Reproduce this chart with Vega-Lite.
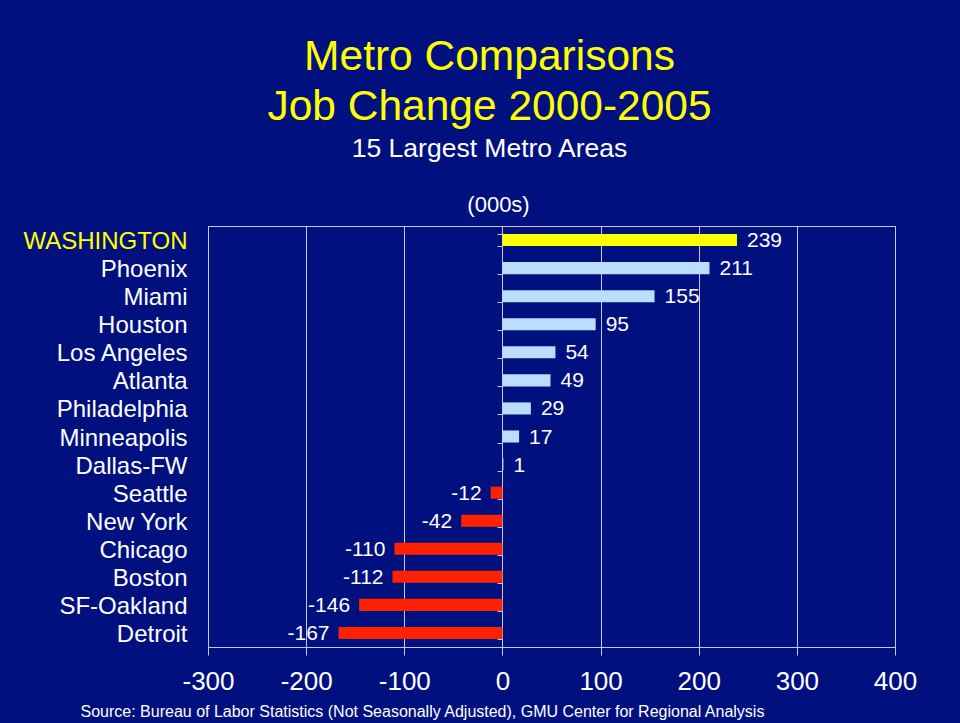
{
  "$schema": "https://vega.github.io/schema/vega-lite/v6.json",
  "width": 687,
  "height": 421,
  "autosize": {"type": "none"},
  "padding": {"left": 208, "top": 226, "right": 65, "bottom": 76},
  "background": "#00107F",
  "title": {
    "text": ["Metro Comparisons", "Job Change 2000-2005"],
    "subtitle": "15 Largest Metro Areas",
    "color": "#FFFF00",
    "fontSize": 42.5,
    "font": "Liberation Sans",
    "fontWeight": "normal",
    "lineHeight": 50,
    "subtitleColor": "#FFFFFF",
    "subtitleFontSize": 26.5,
    "subtitleFont": "Liberation Sans",
    "subtitlePadding": 7,
    "anchor": "middle",
    "frame": "group",
    "dx": -62,
    "offset": 31
  },
  "data": {
    "values": [
      {"metro": "WASHINGTON", "change": 239, "group": "highlight"},
      {"metro": "Phoenix", "change": 211, "group": "gain"},
      {"metro": "Miami", "change": 155, "group": "gain"},
      {"metro": "Houston", "change": 95, "group": "gain"},
      {"metro": "Los Angeles", "change": 54, "group": "gain"},
      {"metro": "Atlanta", "change": 49, "group": "gain"},
      {"metro": "Philadelphia", "change": 29, "group": "gain"},
      {"metro": "Minneapolis", "change": 17, "group": "gain"},
      {"metro": "Dallas-FW", "change": 1, "group": "gain"},
      {"metro": "Seattle", "change": -12, "group": "loss"},
      {"metro": "New York", "change": -42, "group": "loss"},
      {"metro": "Chicago", "change": -110, "group": "loss"},
      {"metro": "Boston", "change": -112, "group": "loss"},
      {"metro": "SF-Oakland", "change": -146, "group": "loss"},
      {"metro": "Detroit", "change": -167, "group": "loss"}
    ]
  },
  "config": {
    "view": {"stroke": "#C8C8DC", "strokeWidth": 1},
    "font": "Liberation Sans"
  },
  "layer": [
    {
      "mark": {"type": "bar"},
      "encoding": {
        "y": {
          "field": "metro", "type": "nominal", "sort": null,
          "scale": {"paddingInner": 0.57, "paddingOuter": 0.285},
          "axis": {
            "title": null, "domain": false, "ticks": false, "grid": false,
            "labelColor": {"expr": "datum.value === 'WASHINGTON' ? '#FFFF00' : '#FFFFFF'"},
            "labelFont": "Liberation Sans", "labelFontSize": 24, "labelPadding": 21,
            "labelOffset": 2
          }
        },
        "x": {
          "field": "change", "type": "quantitative",
          "scale": {"domain": [-300, 400], "nice": false},
          "axis": {
            "values": [-300, -200, -100, 0, 100, 200, 300, 400],
            "labelExpr": "toString(datum.value)",
            "labelFlush": false,
            "grid": true, "gridColor": "#C8C8DC", "gridOpacity": 1,
            "domainColor": "#C8C8DC", "tickColor": "#C8C8DC", "tickSize": 8,
            "labelColor": "#FFFFFF", "labelFontSize": 26, "labelPadding": 13,
            "labelFont": "Liberation Sans",
            "title": "Source: Bureau of Labor Statistics (Not Seasonally Adjusted), GMU Center for Regional Analysis",
            "titleColor": "#FFFFFF", "titleFontSize": 16, "titleFontWeight": "normal",
            "titleFont": "Liberation Sans",
            "titleAnchor": "start", "titleAlign": "left", "titleX": -128, "titleY": 64,
            "titleBaseline": "middle"
          }
        },
        "color": {
          "field": "group", "type": "nominal",
          "scale": {"domain": ["highlight", "gain", "loss"], "range": ["#FFFF00", "#BBDDFF", "#FF2200"]},
          "legend": null
        }
      }
    },
    {
      "transform": [{"filter": "datum.change >= 0"}],
      "mark": {"type": "text", "align": "left", "baseline": "middle", "dx": 10, "dy": 1, "fontSize": 21, "color": "#FFFFFF"},
      "encoding": {
        "y": {
          "field": "metro", "type": "nominal", "sort": null,
          "axis": {
            "orient": "left", "offset": -294, "labels": false, "title": null, "grid": false,
            "domain": true, "domainColor": "#C8C8DC", "ticks": true, "tickColor": "#C8C8DC",
            "tickSize": 5, "tickBand": "extent"
          }
        },
        "x": {
          "field": "change", "type": "quantitative",
          "axis": {
            "orient": "top", "labels": false, "ticks": false, "domain": false, "grid": false,
            "title": "(000s)", "titleColor": "#FFFFFF", "titleFontSize": 22, "titleFontWeight": "normal",
            "titleFont": "Liberation Sans", "titleX": 290, "titlePadding": 10
          }
        },
        "text": {"field": "change", "type": "nominal"}
      }
    },
    {
      "transform": [{"filter": "datum.change < 0"}],
      "mark": {"type": "text", "align": "right", "baseline": "middle", "dx": -9, "dy": 1, "fontSize": 21, "color": "#FFFFFF"},
      "encoding": {
        "y": {"field": "metro", "type": "nominal", "sort": null, "axis": null},
        "x": {"field": "change", "type": "quantitative", "axis": null},
        "text": {"field": "change", "type": "nominal"}
      }
    }
  ],
  "resolve": {"axis": {"x": "independent", "y": "independent"}}
}
